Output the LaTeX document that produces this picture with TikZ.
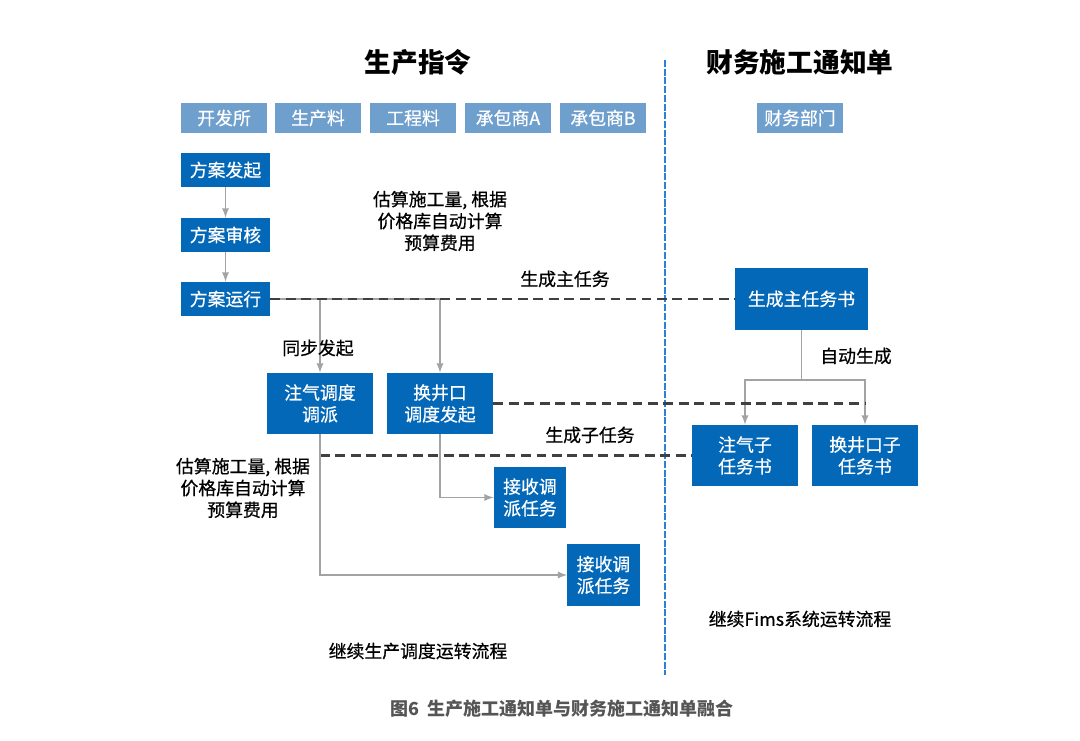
\documentclass[tikz,border=0pt]{standalone}
\usepackage{fontspec}
\newfontfamily\cjk{Noto Sans CJK SC}[FakeBold=0.6]
\newfontfamily\cjkbf{Noto Sans CJK SC}
\usepackage{tikz}
\usetikzlibrary{calc,positioning}

\definecolor{boxblue}{HTML}{0468B8}
\definecolor{headblue}{HTML}{6FA0CD}
\definecolor{flowgray}{HTML}{A3A3A3}
\definecolor{dashgray}{HTML}{404040}
\definecolor{linkblue}{HTML}{2A82D6}
\definecolor{capgray}{HTML}{555555}

\begin{document}
\begin{tikzpicture}[>=latex, x=0.025cm, y=-0.025cm, font=\cjk\fontsize{12.7}{15.5}\selectfont]
        \tikzset{hd/.style={fill=headblue, text=white, inner sep=0pt,
                 minimum width=2.15cm, minimum height=0.75cm},
                 blk/.style={fill=boxblue, text=white, inner sep=0pt, align=center,
                 minimum width=2.65cm, minimum height=1.525cm},
                 flow/.style={draw=flowgray, line width=1.3pt},
                 link/.style={draw=dashgray, line width=1.5pt, dash pattern=on 7pt off 4pt}}
        \useasboundingbox (0,0) rectangle (1080,741);
        %% Titel
        \node[font=\cjkbf\bfseries\fontsize{19}{22}\selectfont] (t1) at (418,62) {生产指令};
        \node[font=\cjkbf\bfseries\fontsize{19}{22}\selectfont] (t2) at (800,62) {财务施工通知单};
        %% Trennlinie
        \draw[linkblue, line width=0.9pt, dash pattern=on 5pt off 1.2pt] (665,60) -- (665,675);
        %% Kopfzeile
        \node[hd] (kfs) at (224,118) {开发所};
        \node[hd] (scl) at (318,118) {生产料};
        \node[hd] (gcl) at (413,118) {工程料};
        \node[hd] (cba) at (508,118) {承包商A};
        \node[hd] (cbb) at (603,118) {承包商B};
        \node[hd] (cwb) at (800,118) {财务部门};
        %% Ablauf links
        \node[blk, minimum width=2.225cm, minimum height=0.85cm] (fafq) at (225.5,170) {方案发起};
        \node[blk, minimum width=2.225cm, minimum height=0.85cm] (fash) at (225.5,235) {方案审核};
        \node[blk, minimum width=2.225cm, minimum height=0.85cm] (fayx) at (225.5,299) {方案运行};
        \draw[flow,->] (fafq) -- (fash);
        \draw[flow,->] (fash) -- (fayx);
        \node[align=center] (gs1) at (440,221) {估算施工量, 根据\\价格库自动计算\\预算费用};
        \node (sczrw) at (565,279) {生成主任务};
        \node[blk, minimum width=3.325cm, minimum height=1.55cm] (zrws) at (801.5,299) {生成主任务书};
        \node[blk] (zqdd) at (320,403.5) {注气调度\\调派};
        \node[blk] (hjk)  at (440,403.5) {换井口\\调度发起};
        \draw[flow,->] (fayx.east) -| (hjk.north);
        \draw[flow,->] (fayx.east -| zqdd.north) -- (zqdd.north);
        \draw[link] (fayx.east) -- (zrws.west);
        \node (tbfq) at (318,348) {同步发起};
        %% rechts
        \draw[flow] (zrws.south) -- ++(0,50) coordinate (ag);
        \node (zdsc) at (856,356) {自动生成};
        \node[blk] (zqz)  at (745,455.5) {注气子\\任务书};
        \node[blk] (hjkz) at (865,455.5) {换井口子\\任务书};
        \draw[flow,->] (ag) -| (zqz.north);
        \draw[flow,->] (ag) -| (hjkz.north);
        \draw[link] (hjk.east) -- (hjk.east -| hjkz.north);
        \node (sczi) at (590,435) {生成子任务};
        \draw[link] (zqz.west -| zqdd.south) -- (zqz.west);
        %% Empfang
        \node[align=center] (gs2) at (243,488) {估算施工量, 根据\\价格库自动计算\\预算费用};
        \node[blk, minimum width=1.8cm] (js1) at (530,497.5) {接收调\\派任务};
        \node[blk, minimum width=1.8cm] (js2) at (603.5,575) {接收调\\派任务};
        \draw[flow,->] (hjk.south) |- (js1.west);
        \draw[flow,->] (zqdd.south) |- (js2.west);
        \node (jx1) at (418,651) {继续生产调度运转流程};
        \node (jx2) at (800,619) {继续Fims系统运转流程};
        \node[text=capgray, font=\cjkbf\bfseries\fontsize{12.8}{15}\selectfont] (cap) at (562,709) {图6\ \ 生产施工通知单与财务施工通知单融合};
    \end{tikzpicture}
\end{document}
